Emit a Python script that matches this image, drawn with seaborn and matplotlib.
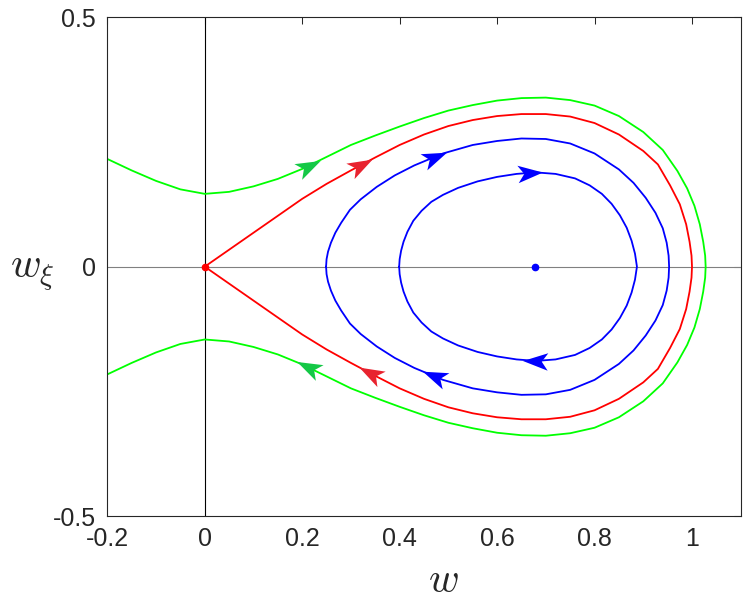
import numpy as np
import pandas as pd
import seaborn as sns
import matplotlib.pyplot as plt
from matplotlib.path import Path
from matplotlib.markers import MarkerStyle
from matplotlib.transforms import Affine2D

# upper halves of the trajectories (w, w_xi);
# lower halves are the mirror image (w_xi -> -w_xi)
green_w = [-0.2, -0.15, -0.1, -0.05, 0.0, 0.05, 0.1, 0.15, 0.2, 0.25, 0.3, 0.35, 0.4,
           0.45, 0.5, 0.55, 0.6, 0.65, 0.7, 0.75, 0.8, 0.85, 0.9, 0.94, 0.97, 0.99,
           1.005, 1.016, 1.023, 1.027, 1.028]
green_v = [0.216, 0.193, 0.172, 0.155, 0.146, 0.150, 0.161, 0.176, 0.196, 0.220, 0.244,
           0.263, 0.281, 0.298, 0.313, 0.324, 0.333, 0.338, 0.339, 0.334, 0.323, 0.302,
           0.270, 0.234, 0.192, 0.157, 0.122, 0.085, 0.050, 0.022, 0.0]

red_w = [0.0, 0.05, 0.1, 0.15, 0.2, 0.25, 0.3, 0.35, 0.4, 0.45, 0.5, 0.55, 0.6, 0.65,
         0.7, 0.75, 0.8, 0.85, 0.9, 0.93, 0.955, 0.975, 0.988, 0.995, 0.999, 1.0]
red_v = [0.0, 0.034, 0.068, 0.102, 0.136, 0.166, 0.193, 0.219, 0.244, 0.265, 0.282,
         0.294, 0.302, 0.306, 0.306, 0.301, 0.288, 0.265, 0.232, 0.205, 0.163, 0.125,
         0.085, 0.050, 0.022, 0.0]

blue1_w = [0.249, 0.250, 0.253, 0.259, 0.268, 0.28, 0.298, 0.32, 0.353, 0.39, 0.43,
           0.489, 0.55, 0.6, 0.65, 0.7, 0.75, 0.8, 0.85, 0.88, 0.905, 0.925, 0.94,
           0.948, 0.952, 0.953]
blue1_v = [0.0, 0.015, 0.030, 0.048, 0.068, 0.088, 0.114, 0.135, 0.160, 0.183, 0.203,
           0.227, 0.244, 0.252, 0.257, 0.256, 0.247, 0.227, 0.195, 0.168, 0.138, 0.108,
           0.077, 0.048, 0.022, 0.0]

blue2_w = [0.399, 0.400, 0.403, 0.408, 0.416, 0.428, 0.445, 0.465, 0.489, 0.52, 0.56,
           0.6, 0.64, 0.68, 0.72, 0.76, 0.79, 0.815, 0.835, 0.852, 0.866, 0.876, 0.883,
           0.887]
blue2_v = [0.0, 0.015, 0.032, 0.050, 0.070, 0.092, 0.112, 0.130, 0.144, 0.158, 0.171,
           0.180, 0.186, 0.189, 0.186, 0.177, 0.163, 0.146, 0.126, 0.103, 0.078, 0.052,
           0.026, 0.0]

# equilibrium points
saddle = (0.0, 0.0)
centre = (0.678, 0.0)

# arrow centres (w) on the upper / lower branch of each curve
arrows_upper = {'green': 0.213, 'red': 0.32, 'blue1': 0.472, 'blue2': 0.667}
arrows_lower = {'green': 0.212, 'red': 0.34, 'blue1': 0.47, 'blue2': 0.677}

curves = {
    'green': (green_w, green_v, '#00ff00', '#14c846'),
    'red': (red_w, red_v, '#ff0000', '#e8232f'),
    'blue1': (blue1_w, blue1_v, '#0000ff', '#0000ff'),
    'blue2': (blue2_w, blue2_v, '#0000ff', '#0000ff'),
}

sns.set_theme(style='white')
plt.rcParams['font.family'] = ['Liberation Sans', 'DejaVu Sans']
plt.rcParams['mathtext.fontset'] = 'cm'
plt.rcParams['lines.solid_joinstyle'] = 'round'

fig = plt.figure(figsize=(7.54, 6.01), dpi=100)
ax = fig.add_axes([0.1423, 0.1414, 0.8401, 0.8298])
ax.set_xlim(-0.2, 1.1)
ax.set_ylim(-0.5, 0.5)

ax.axhline(0, color='#808080', lw=0.8, zorder=1)
ax.axvline(0, color='black', lw=0.8, zorder=1)

for name, (w, v, col, acol) in curves.items():
    w = np.asarray(w)
    v = np.asarray(v)
    full = pd.DataFrame({'w': np.concatenate([w, w[::-1][1:]]),
                         'v': np.concatenate([v, -v[::-1][1:]])})
    sns.lineplot(data=full, x='w', y='v', sort=False, estimator=None,
                 color=col, linewidth=1.3, ax=ax, zorder=2)

ax.plot(*saddle, 'o', color='red', ms=4.5, zorder=3)
ax.plot(*centre, 'o', color='blue', ms=4.5, zorder=3)

# notched arrow head, pointing along +x
head = Path([(10, 0), (-10, 7), (-5, 0), (-10, -7), (10, 0)],
            [Path.MOVETO, Path.LINETO, Path.LINETO, Path.LINETO, Path.CLOSEPOLY])


def draw_arrow(name, wc, sign):
    w, v, col, acol = curves[name]
    vc = sign * np.interp(wc, w, v)
    d = 0.006
    p1 = ax.transData.transform((wc - d, sign * np.interp(wc - d, w, v)))
    p2 = ax.transData.transform((wc + d, sign * np.interp(wc + d, w, v)))
    ang = np.degrees(np.arctan2(p2[1] - p1[1], p2[0] - p1[0]))
    if sign < 0:
        ang += 180
    m = MarkerStyle(head, transform=Affine2D().rotate_deg(ang))
    ax.plot(wc, vc, marker=m, ms=18, color=acol, mew=0, ls='none', zorder=4)


for name, wc in arrows_upper.items():
    draw_arrow(name, wc, 1)
for name, wc in arrows_lower.items():
    draw_arrow(name, wc, -1)

ax.set_xticks([-0.2, 0, 0.2, 0.4, 0.6, 0.8, 1])
ax.set_xticklabels(['-0.2', '0', '0.2', '0.4', '0.6', '0.8', '1'])
ax.set_yticks([-0.5, 0, 0.5])
ax.set_yticklabels(['-0.5', '0', '0.5'])
ax.tick_params(direction='in', length=5, width=0.75, top=True, right=True,
               labelsize=18, colors='#262626', pad=8)
for s in ax.spines.values():
    s.set_color('#262626')
    s.set_linewidth(0.8)

ax.set_xlabel('$w$', fontsize=30, color='#262626', va='baseline', ha='center')
ax.xaxis.set_label_coords(0.53, -0.152)
ax.set_ylabel(r'$w_\xi$', fontsize=30, color='#262626', rotation=0,
              va='baseline', ha='left')
ax.yaxis.set_label_coords(-0.154, 0.477)

fig.savefig('out.png', dpi=100)
